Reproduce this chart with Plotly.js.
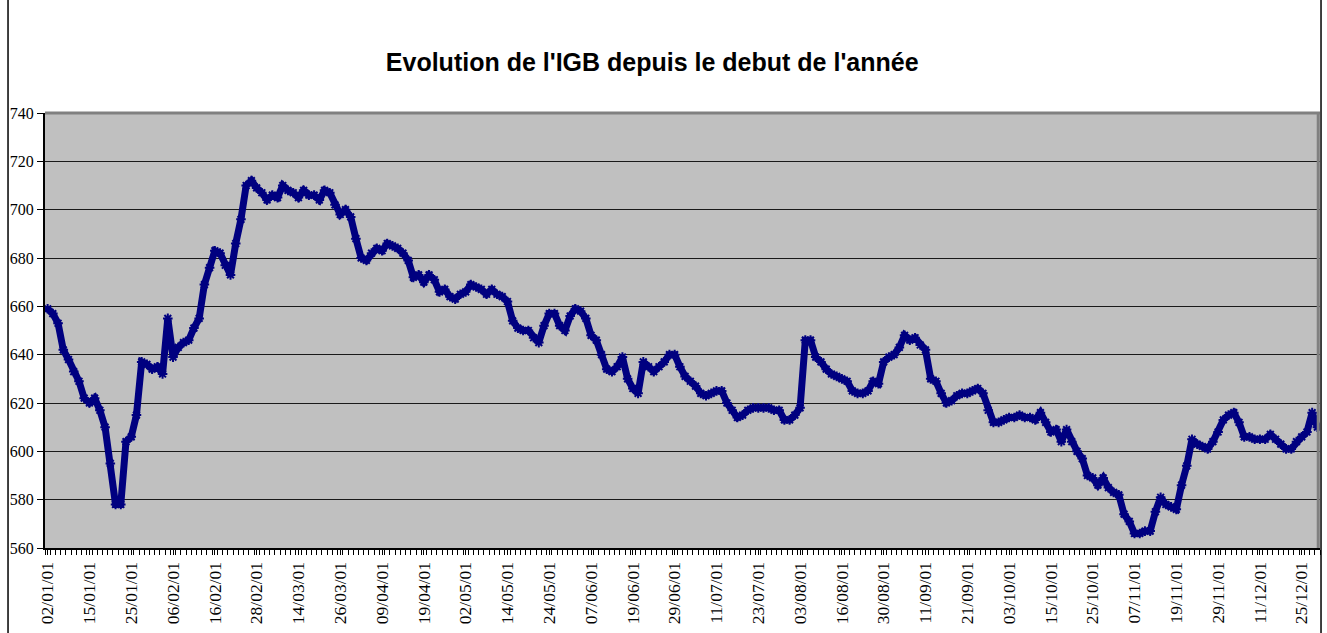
<!DOCTYPE html>
<html>
<head>
<meta charset="utf-8">
<script src="https://cdn.plot.ly/plotly-3.0.1.min.js"></script>
<style>
html,body{margin:0;padding:0;background:#fff;}
#chart{width:1327px;height:633px;}
</style>
</head>
<body>
<div id="chart"></div>
<script>
// Tick labels (every 8th trading day)
const tickLabels = ["02/01/01","15/01/01","25/01/01","06/02/01","16/02/01","28/02/01","14/03/01","26/03/01",
  "09/04/01","19/04/01","02/05/01","14/05/01","24/05/01","07/06/01","19/06/01","29/06/01",
  "11/07/01","23/07/01","03/08/01","16/08/01","30/08/01","11/09/01","21/09/01","03/10/01",
  "15/10/01","25/10/01","07/11/01","19/11/01","29/11/01","11/12/01","25/12/01"];
const labelEvery = 8;

// IGB daily values
const igb = [
 659,657,653,642,638,633,629,622,620,622,
 617,610,595,578,578,604,606,615,637,636,
 634,635,632,655,639,643,645,646,651,655,
 669,676,683,682,677,673,686,696,710,712,
 709,707,704,706,705,710,708,707,705,708,
 706,706,704,708,707,702,698,700,697,688,
 680,679,682,684,683,686,685,684,682,679,
 672,673,670,673,671,666,667,664,663,665,
 666,669,668,667,665,667,665,664,662,654,
 651,650,650,647,645,652,657,657,652,650,
 656,659,658,655,648,646,640,634,633,635,
 639,630,626,624,637,635,633,635,637,640,
 640,635,631,629,627,624,623,624,625,625,
 620,617,614,615,617,618,618,618,618,617,
 617,613,613,615,618,646,646,639,637,634,
 632,631,630,629,625,624,624,625,629,628,
 637,639,640,643,648,646,647,644,642,630,
 629,624,620,621,623,624,624,625,626,624,
 617,612,612,613,614,614,615,614,614,613,
 616,612,608,609,604,609,604,600,597,590,
 589,586,589,585,583,582,574,571,566,566,
 567,567,575,581,578,577,576,586,594,605,
 603,602,601,604,608,613,615,616,612,606,
 606,605,605,605,607,605,603,601,601,604,
 606,608,616,610
];

const xIdx = igb.map((v,i)=>i);
const tickVals = tickLabels.map((t,i)=>i*labelEvery);

const trace = {
  x: xIdx, y: igb, type:'scatter', mode:'lines+markers',
  line:{color:'#000080', width:7},
  marker:{symbol:'asterisk-open', size:8, color:'#000080', line:{color:'#000080', width:2}},
  hoverinfo:'skip', showlegend:false
};

const layout = {
  width:1327, height:633,
  paper_bgcolor:'#ffffff', plot_bgcolor:'#c0c0c0',
  margin:{l:45, r:7, t:113, b:85, pad:0},
  title:{text:"Evolution de l'IGB depuis le debut de l'année",
         font:{family:'Liberation Sans, Arial, sans-serif', size:25, color:'#000', weight:'bold'},
         x:0.4915, xanchor:'center', y:0.902, yanchor:'middle'},
  xaxis:{
    range:[-0.5, igb.length-0.5], tickmode:'array', tickvals:tickVals, ticktext:tickLabels,
    tickangle:-90, ticks:'outside', ticklen:5, tickcolor:'#000', tickwidth:1,
    showgrid:false, zeroline:false, showline:true, linecolor:'#000', linewidth:2,
    tickfont:{family:'Liberation Serif, Times New Roman, serif', size:17.5, color:'#000'},
    minor:{tickmode:'linear', tick0:-0.5, dtick:1, ticks:'outside', ticklen:5, tickcolor:'#000', tickwidth:1, showgrid:false},
    fixedrange:true
  },
  yaxis:{
    range:[560,740], dtick:20, tick0:560, ticks:'outside', ticklen:6, tickcolor:'#000',
    showgrid:true, gridcolor:'#1a1a1a', gridwidth:1, zeroline:false,
    showline:true, linecolor:'#000', linewidth:2,
    tickfont:{family:'Liberation Serif, Times New Roman, serif', size:16, color:'#000'},
    fixedrange:true
  },
  shapes:[
    {type:'line', xref:'paper', yref:'paper', x0:0, x1:1, y0:1, y1:1, line:{color:'#808080', width:3}, layer:'above'},
    {type:'line', xref:'paper', yref:'paper', x0:0.9986, x1:0.9986, y0:0, y1:1, line:{color:'#808080', width:3}, layer:'above'},
    {type:'line', xref:'paper', yref:'paper', x0:-0.0290, x1:-0.0290, y0:-0.3, y1:1.3, line:{color:'#000', width:1.5}, layer:'above'},
    {type:'line', xref:'paper', yref:'paper', x0:1.0008, x1:1.0008, y0:-0.3, y1:1.3, line:{color:'#000', width:1.5}, layer:'above'}
  ]
};

Plotly.newPlot('chart', [trace], layout, {displayModeBar:false, staticPlot:true});
</script>
</body>
</html>
